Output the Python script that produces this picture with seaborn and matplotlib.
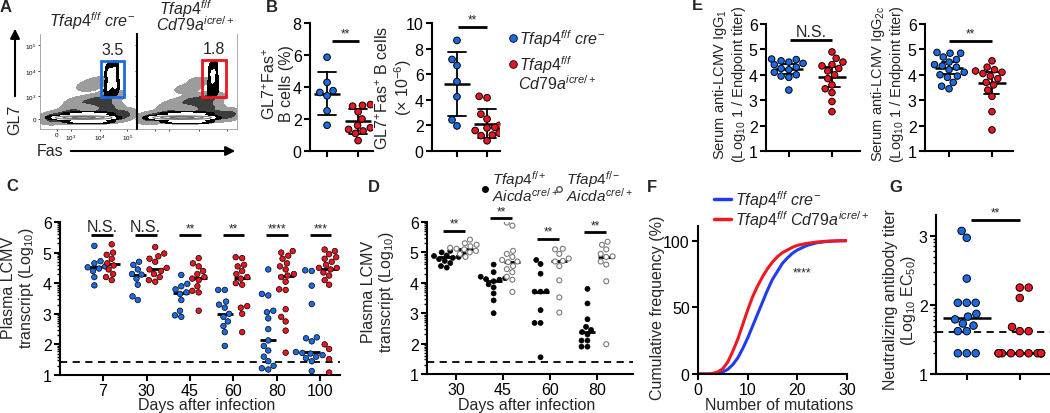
import numpy as np
import pandas as pd
import matplotlib
matplotlib.use("Agg")
import matplotlib.pyplot as plt
from matplotlib.lines import Line2D
from matplotlib.patches import Rectangle, FancyArrowPatch
from matplotlib.colors import ListedColormap
import seaborn as sns
import warnings

warnings.filterwarnings("ignore")

W, H = 1050, 414
BLUE = "#1a6be3"
RED = "#ea1520"
F_BLUE = "#1f3cf0"
F_RED = "#f01820"

# ---------------- data ----------------
# A: flow cytometry populations (Fas, GL7 in relative axis units, weights)
# diffuse background events
a_ctrl_bg_fas = [0.15, 0.30, 0.45, 0.60, 0.75, 0.85, 0.40, 0.55, 0.65, 0.72, 0.50, 0.60, 0.35, 0.70]
a_ctrl_bg_gl7 = [0.12, 0.14, 0.13, 0.13, 0.14, 0.15, 0.28, 0.30, 0.28, 0.35, 0.45, 0.50, 0.22, 0.22]
a_ctrl_bg_w = [3, 4, 5, 5, 4, 2, 1, 1.5, 2, 1.5, 0.6, 0.5, 1, 2]
a_ko_bg_fas = [0.15, 0.30, 0.45, 0.60, 0.75, 0.90, 0.40, 0.55, 0.65, 0.72, 0.50, 0.62, 0.35, 0.70]
a_ko_bg_gl7 = [0.12, 0.14, 0.13, 0.13, 0.14, 0.15, 0.26, 0.30, 0.28, 0.33, 0.42, 0.50, 0.22, 0.22]
a_ko_bg_w = [3, 4, 5, 5, 4, 3, 1, 1.8, 2.5, 1.8, 0.6, 0.5, 1, 2.5]
# non-GC B cells
a_ctrl_b_fas = [0.20, 0.30, 0.40, 0.50, 0.60, 0.70, 0.35, 0.50, 0.65, 0.35, 0.50, 0.65]
a_ctrl_b_gl7 = [0.12, 0.12, 0.12, 0.12, 0.12, 0.12, 0.08, 0.08, 0.08, 0.16, 0.16, 0.16]
a_ctrl_b_w = [3, 4, 5, 5, 4, 3, 2, 2, 2, 2, 2, 2]
a_ko_b_fas = [0.20, 0.30, 0.40, 0.50, 0.60, 0.70, 0.35, 0.50, 0.65, 0.35, 0.50, 0.65]
a_ko_b_gl7 = [0.12, 0.12, 0.12, 0.12, 0.12, 0.12, 0.08, 0.08, 0.08, 0.16, 0.16, 0.16]
a_ko_b_w = [3, 4, 5, 5, 4, 3, 2, 2, 2, 2, 2, 2]
# GC B cells
a_ctrl_gc_fas = [0.70, 0.78, 0.74, 0.71, 0.77]
a_ctrl_gc_gl7 = [0.42, 0.45, 0.52, 0.60, 0.62]
a_ko_gc_fas = [0.73, 0.79, 0.76, 0.74, 0.78]
a_ko_gc_gl7 = [0.42, 0.45, 0.52, 0.60, 0.62]
a_freq = ["3.5", "1.8"]
a_gates = [(0.63, 0.34, 0.24, 0.38), (0.65, 0.34, 0.24, 0.39)]
a_yticks = [0.105, 0.35, 0.61, 0.88]
a_ylabels = ["0", "10$^3$", "10$^4$", "10$^5$"]
a_xticks = [0.175, 0.32, 0.62, 0.90]
a_xlabels = ["0", "10$^3$", "10$^4$", "10$^5$"]

# B: GL7+Fas+ B cells
b_pct_ctrl = [5.86, 4.29, 3.77, 3.66, 3.45, 2.51, 1.61]
b_pct_ko = [2.9, 2.85, 2.8, 2.45, 2.0, 1.6, 1.45, 1.35, 1.25, 1.1, 0.65]
b_num_ctrl = [8.64, 7.15, 6.68, 5.42, 4.24, 2.43, 1.96]
b_num_ko = [4.27, 4.16, 2.88, 2.5, 2.0, 1.85, 1.8, 1.6, 1.4, 1.25, 1.2, 0.8]

# C: plasma LCMV, Tfap4 f/f cre- vs Cd79a icre/+
c_days = ["7", "30", "45", "60", "80", "100"]
c_ctrl = [
    [5.22, 4.72, 4.65, 4.55, 4.52, 4.48, 4.4, 4.2, 3.93],
    [4.7, 4.6, 4.45, 4.3, 4.28, 4.15, 3.95, 3.57, 3.45],
    [4.27, 3.98, 3.9, 3.8, 3.7, 3.65, 3.45, 3.1, 2.95, 2.9],
    [3.78, 3.78, 3.4, 3.3, 3.2, 3.0, 2.9, 2.75, 2.6, 2.4, 1.95],
    [4.45, 3.65, 3.6, 3.1, 3.05, 2.85, 2.5, 2.13, 1.95, 1.8, 1.6, 1.45, 1.3, 1.22, 1.18],
    [4.42, 4.4, 3.92, 3.32, 2.23, 2.2, 2.1, 1.75, 1.72, 1.7, 1.65, 1.6, 1.55, 1.45, 1.13],
]
c_ko = [
    [5.27, 5.0, 4.93, 4.8, 4.65, 4.58, 4.45, 4.3, 4.2, 4.1],
    [5.18, 4.97, 4.88, 4.8, 4.7, 4.5, 4.45, 4.4, 4.3, 4.2, 4.1, 4.05],
    [4.82, 4.65, 4.55, 4.4, 4.3, 4.2, 4.15, 4.1, 3.9, 3.75, 3.7, 3.1],
    [4.85, 4.82, 4.6, 4.55, 4.4, 4.3, 4.2, 4.15, 4.0, 3.95, 3.25, 3.2, 3.0, 2.4],
    [5.05, 5.0, 4.9, 4.8, 4.65, 4.55, 4.45, 4.3, 4.25, 4.2, 4.05, 3.8, 3.78, 3.15, 2.9, 2.75, 2.45, 1.73],
    [5.1, 5.05, 4.95, 4.85, 4.8, 4.7, 4.6, 4.5, 4.5, 4.45, 4.35, 4.25, 4.1, 3.95, 2.0, 1.85, 1.52, 1.08],
]
c_sig = ["N.S.", "N.S.", "**", "**", "****", "***"]
c_sig_y = 5.56
c_limit = 1.43

# D: plasma LCMV, Aicda cre/+ Tfap4 f/+ vs f/-
d_days = ["30", "45", "60", "80"]
d_het = [
    [5.05, 5.0, 4.95, 4.9, 4.88, 4.85, 4.82, 4.78, 4.72, 4.65, 4.55, 4.5],
    [4.6, 4.35, 4.2, 4.15, 4.12, 4.1, 4.05, 3.95, 3.85, 3.65, 3.42, 3.0],
    [4.75, 4.62, 4.3, 3.72, 3.71, 3.71, 3.1, 2.68, 2.68, 1.55],
    [3.8, 3.32, 2.8, 2.55, 2.45, 2.38, 2.3, 2.1, 2.1, 1.9, 1.9],
]
d_ko = [
    [5.42, 5.3, 5.25, 5.2, 5.15, 5.12, 5.1, 5.05, 5.0, 4.95, 4.85],
    [5.98, 5.88, 5.05, 4.95, 4.85, 4.75, 4.7, 4.68, 4.55, 4.45, 4.35, 4.2, 4.1, 3.7],
    [5.12, 5.1, 4.95, 4.8, 4.72, 4.7, 4.55, 4.08, 3.52, 3.02],
    [5.35, 5.25, 5.1, 4.95, 4.87, 4.85, 4.7, 4.6, 4.05, 1.98],
]
d_sig_y = [5.72, 6.12, 5.45, 5.67]
d_limit = 1.41

# E: serum anti-LCMV IgG titers
e_g1_ctrl = [4.62, 4.6, 4.55, 4.5, 4.45, 4.4, 4.3, 4.25, 4.2, 4.1, 4.0, 3.95, 3.9, 3.4]
e_g1_ko = [4.9, 4.65, 4.5, 4.4, 4.35, 4.25, 4.15, 4.0, 3.85, 3.6, 3.45, 3.3, 2.95, 2.55]
e_g2c_ctrl = [4.88, 4.85, 4.85, 4.7, 4.6, 4.5, 4.4, 4.35, 4.3, 4.2, 4.1, 4.0, 3.95, 3.9, 3.7, 3.55, 3.45]
e_g2c_ko = [4.55, 4.3, 4.2, 4.15, 4.1, 4.05, 3.95, 3.85, 3.7, 3.6, 3.4, 3.15, 2.55, 1.83]

# F: cumulative frequency of mutations
f_mut = [0, 2, 3, 4, 5, 6, 7, 8, 9, 10, 11, 12, 13, 14, 15, 16, 17, 18, 19, 20, 22, 24, 26, 28, 30]
f_ctrl = [0, 0.05, 0.2, 0.6, 1.5, 3.5, 7, 12, 19, 27, 36, 45, 54, 63, 71, 77, 83, 87, 90.5, 93, 96.5, 98.5, 99.4, 99.8, 100]
f_ko = [0, 0.1, 0.5, 1.5, 4, 9, 17, 26, 37, 48, 58, 66, 73, 79, 84, 88, 91, 93, 95, 96.5, 98, 99, 99.6, 99.9, 100]

# G: neutralizing antibody titer
g_ctrl = [3.07, 2.97, 2.38, 2.03, 2.03, 2.03, 1.87, 1.83, 1.79, 1.73, 1.70, 1.62, 1.62, 1.30, 1.30, 1.30]
g_ko = [2.25, 2.25, 2.10, 1.68, 1.62, 1.62, 1.30, 1.30, 1.30, 1.30, 1.30, 1.30, 1.30, 1.30, 1.30, 1.30]
g_limit = 1.61

CTRL_LABEL = r"$\mathit{Tfap4}^{\mathit{f/f}}\ \mathit{cre}^{-}$"
KO_LABEL = r"$\mathit{Tfap4}^{\mathit{f/f}}\ \mathit{Cd79a}^{\mathit{icre/+}}$"

# ---------------- style ----------------
sns.set_theme(style="ticks")
plt.rcParams["font.family"] = ["Liberation Sans", "DejaVu Sans"]
plt.rcParams["mathtext.fontset"] = "custom"
plt.rcParams["mathtext.rm"] = "Liberation Sans"
plt.rcParams["mathtext.it"] = "Liberation Sans:italic"
plt.rcParams["mathtext.bf"] = "Liberation Sans:bold"
plt.rcParams["axes.edgecolor"] = "black"
plt.rcParams["xtick.color"] = "black"
plt.rcParams["ytick.color"] = "black"

fig = plt.figure(figsize=(W / 100, H / 100), dpi=100)


def px_axes(box):
    x0, y0, x1, y1 = box
    return fig.add_axes([x0 / W, 1 - y1 / H, (x1 - x0) / W, (y1 - y0) / H])


def fx(x):
    return x / W


def fy(y):
    return 1 - y / H


def style(ax, xlim, ylim, yticks, fs=11.5):
    ax.set_xlim(*xlim)
    ax.set_ylim(*ylim)
    ax.set_yticks(yticks)
    for s in ["top", "right"]:
        ax.spines[s].set_visible(False)
    for s in ["left", "bottom"]:
        ax.spines[s].set_linewidth(1.5)
    ax.tick_params(direction="out", length=4, width=1.5, labelsize=fs, pad=2)
    ax.set_xlabel("")
    ax.set_ylabel("")


def ylab(ax, box, text, x_right, y_mid, fs=11.5):
    x0, y0, x1, y1 = box
    ax.set_ylabel(text, fontsize=fs, linespacing=1.05)
    ax.yaxis.set_label_coords((x_right - x0) / (x1 - x0), (y1 - y_mid) / (y1 - y0))


def xlab(ax, box, text, x_mid, y_top, fs=11.5):
    x0, y0, x1, y1 = box
    ax.set_xlabel(text, fontsize=fs)
    ax.xaxis.set_label_coords((x_mid - x0) / (x1 - x0), (y1 - y_top) / (y1 - y0))


def sig(ax, x0, x1, y, text, fs, dy):
    ax.plot([x0, x1], [y, y], color="black", lw=2, clip_on=False, solid_capstyle="butt")
    ax.text((x0 + x1) / 2, y + dy, text, ha="center", va="bottom", fontsize=fs, clip_on=False)


def two_groups(ax, ctrl, ko, size, errorbar, est, capsize, msize):
    df = pd.DataFrame({"g": ["ctrl"] * len(ctrl) + ["ko"] * len(ko), "v": list(ctrl) + list(ko)})
    sns.swarmplot(data=df, x="g", y="v", hue="g", palette={"ctrl": BLUE, "ko": RED},
                  size=size, edgecolor="black", linewidth=0.7, legend=False, ax=ax)
    sns.pointplot(data=df, x="g", y="v", estimator=est, errorbar=errorbar, color="black",
                  marker="_", markersize=msize, markeredgewidth=1.8, linestyle="none",
                  capsize=capsize, err_kws={"linewidth": 1.3}, ax=ax)
    ax.set_xticks([0, 1])
    ax.set_xticklabels([])


def log_minor(ax, lo, hi):
    minor = [np.log10(k * 10.0 ** d) for d in range(int(lo), int(hi) + 1) for k in range(2, 10)]
    ax.set_yticks([m for m in minor if lo < m < hi], minor=True)
    ax.tick_params(axis="y", which="minor", length=2, width=1.0, direction="out")


def density(ax, fas, gl7, w, bw, fills, lines=None):
    df = pd.DataFrame({"fas": fas, "gl7": gl7, "w": w})
    for lev, shade in fills:
        sns.kdeplot(data=df, x="fas", y="gl7", weights="w", fill=True, bw_method=bw,
                    levels=[lev, 1.0], cmap=ListedColormap([shade]),
                    clip=((0, 1), (0, 1)), ax=ax)
    if lines:
        n_before = len(ax.collections)
        sns.kdeplot(data=df, x="fas", y="gl7", weights="w", fill=False, bw_method=bw,
                    levels=lines, color="#666666", clip=((0, 1), (0, 1)), ax=ax)
        for coll in ax.collections[n_before:]:
            coll.set_linewidth(0.6)


# ---------------- A ----------------
box_a1 = (40, 35, 137, 130)
box_a2 = (137, 35, 237, 130)
a_sets = [
    (box_a1, (a_ctrl_bg_fas, a_ctrl_bg_gl7, a_ctrl_bg_w), (a_ctrl_b_fas, a_ctrl_b_gl7, a_ctrl_b_w),
     (a_ctrl_gc_fas, a_ctrl_gc_gl7), BLUE, 0.55),
    (box_a2, (a_ko_bg_fas, a_ko_bg_gl7, a_ko_bg_w), (a_ko_b_fas, a_ko_b_gl7, a_ko_b_w),
     (a_ko_gc_fas, a_ko_gc_gl7), RED, 0.8),
]
for i, (box, bg, bcell, gc, col, gc_core) in enumerate(a_sets):
    ax = px_axes(box)
    density(ax, *bg, 0.35, [(0.015, "#9c9c9c"), (0.25, "#3c3c3c")])
    density(ax, *bcell, 0.5, [(0.04, "black"), (0.22, "white")], lines=[0.5, 0.72, 0.9])
    density(ax, gc[0], gc[1], [1] * len(gc[0]), 0.7, [(0.1, "black"), (gc_core, "white")])
    gx, gy, gw, gh = a_gates[i]
    ax.add_patch(Rectangle((gx, gy), gw, gh, fill=False, edgecolor=col, lw=2))
    ax.text(gx + gw / 2, gy + gh + 0.04, a_freq[i], ha="center", va="bottom", fontsize=11.5)
    ax.set_xlim(0, 1)
    ax.set_ylim(0, 1)
    ax.set_xlabel("")
    ax.set_ylabel("")
    ax.set_xticks(a_xticks)
    ax.set_yticks(a_yticks)
    if i == 0:
        ax.set_xticklabels(a_xlabels, fontsize=4.5)
        ax.set_yticklabels(a_ylabels, fontsize=4.5)
    else:
        ax.set_xticklabels([])
        ax.set_yticklabels([])
        ax.tick_params(axis="y", length=0)
    ax.tick_params(length=1.5, width=0.5, pad=1)
    for s in ax.spines.values():
        s.set_linewidth(0.5)
        s.set_color("#888888")
    if i == 1:
        ax.spines["left"].set_color("black")
        ax.spines["left"].set_linewidth(1.5)
    ax.spines["top"].set_visible(False)

fig.text(fx(92), fy(21), CTRL_LABEL, ha="center", va="center", fontsize=11.5)
fig.text(fx(186), fy(9), r"$\mathit{Tfap4}^{\mathit{f/f}}$", ha="center", va="center", fontsize=11.5)
fig.text(fx(195), fy(25), r"$\mathit{Cd79a}^{\mathit{icre/+}}$", ha="center", va="center", fontsize=11.5)
fig.text(fx(15), fy(120), "GL7", rotation=90, ha="center", va="center", fontsize=11.5)
fig.add_artist(FancyArrowPatch((fx(15), fy(100)), (fx(15), fy(27)), transform=fig.transFigure,
                               arrowstyle="-|>", mutation_scale=14, lw=1.5, color="black"))
fig.text(fx(50), fy(152), "Fas", ha="center", va="center", fontsize=11.5)
fig.add_artist(FancyArrowPatch((fx(68), fy(152)), (fx(238), fy(152)), transform=fig.transFigure,
                               arrowstyle="-|>", mutation_scale=14, lw=1.5, color="black"))

# ---------------- B ----------------
box_b1 = (310, 24, 373, 152)
ax = px_axes(box_b1)
two_groups(ax, b_pct_ctrl, b_pct_ko, 4.8, "sd", "mean", 0.6, 19)
style(ax, (-0.55, 1.48), (0, 8), [0, 2, 4, 6, 8])
ylab(ax, box_b1, "GL7$^{+}$Fas$^{+}$\nB cells (%)", 294, 84)
sig(ax, 0.16, 1.03, 6.85, "**", 8.5, 0.1)

box_b2 = (432, 24, 500, 152)
ax = px_axes(box_b2)
two_groups(ax, b_num_ctrl, b_num_ko, 4.8, "sd", "mean", 0.6, 19)
style(ax, (-0.83, 1.43), (0, 10), [0, 2, 4, 6, 8, 10])
ylab(ax, box_b2, "GL7$^{+}$Fas$^{+}$ B cells\n(× 10$^{-6}$)", 414, 88)
sig(ax, 0.03, 1.0, 9.66, "**", 8.5, 0.12)

fig.add_artist(Line2D([fx(513)], [fy(39)], marker="o", color=BLUE, markeredgecolor="black",
                      markeredgewidth=0.6, markersize=5.5, transform=fig.transFigure))
fig.add_artist(Line2D([fx(513)], [fy(65)], marker="o", color=RED, markeredgecolor="black",
                      markeredgewidth=0.6, markersize=5.5, transform=fig.transFigure))
fig.text(fx(519), fy(39), CTRL_LABEL, ha="left", va="center", fontsize=11.5)
fig.text(fx(519), fy(65), r"$\mathit{Tfap4}^{\mathit{f/f}}$", ha="left", va="center", fontsize=11.5)
fig.text(fx(518), fy(84), r"$\mathit{Cd79a}^{\mathit{icre/+}}$", ha="left", va="center", fontsize=11.5)

# ---------------- C ----------------
box_c = (60, 223, 340, 376)
ax = px_axes(box_c)
rows = []
for day, cv, kv in zip(c_days, c_ctrl, c_ko):
    rows += [(day, "ctrl", v) for v in cv] + [(day, "ko", v) for v in kv]
c_df = pd.DataFrame(rows, columns=["day", "geno", "val"])
sns.swarmplot(data=c_df, x="day", y="val", hue="geno", order=c_days, hue_order=["ctrl", "ko"],
              dodge=True, palette={"ctrl": BLUE, "ko": RED}, size=4.0, edgecolor="black",
              linewidth=0.5, legend=False, ax=ax)
sns.pointplot(data=c_df, x="day", y="val", hue="geno", order=c_days, hue_order=["ctrl", "ko"],
              estimator="median", errorbar=None, dodge=0.4, palette={"ctrl": "black", "ko": "black"},
              marker="_", markersize=12, markeredgewidth=2, linestyle="none", legend=False, ax=ax)
ax.axhline(c_limit, color="black", lw=1.3, ls=(0, (4, 3)))
style(ax, (-0.99, 5.45), (1, 6), [1, 2, 3, 4, 5, 6])
log_minor(ax, 1, 6)
ylab(ax, box_c, "Plasma LCMV\ntranscript (Log$_{10}$)", 36, 288)
xlab(ax, box_c, "Days after infection", 207, 398)
for i, t in enumerate(c_sig):
    if t == "N.S.":
        sig(ax, i - 0.27, i + 0.23, c_sig_y, t, 11.5, 0.04)
    else:
        sig(ax, i - 0.25, i + 0.25, c_sig_y, t, 8.5, 0.03)

# ---------------- D ----------------
box_d = (427, 223, 633, 375)
ax = px_axes(box_d)
rows = []
for day, hv, kv in zip(d_days, d_het, d_ko):
    rows += [(day, "het", v) for v in hv] + [(day, "ko", v) for v in kv]
d_df = pd.DataFrame(rows, columns=["day", "geno", "val"])
sns.swarmplot(data=d_df[d_df.geno == "het"], x="day", y="val", hue="geno", order=d_days,
              hue_order=["het", "ko"], dodge=True, palette={"het": "black", "ko": "white"},
              size=3.6, edgecolor="black", linewidth=0.5, legend=False, ax=ax)
sns.swarmplot(data=d_df[d_df.geno == "ko"], x="day", y="val", hue="geno", order=d_days,
              hue_order=["het", "ko"], dodge=True, palette={"het": "black", "ko": "white"},
              size=3.6, edgecolor="#7a7a7a", linewidth=0.8, legend=False, ax=ax)
sns.pointplot(data=d_df, x="day", y="val", hue="geno", order=d_days, hue_order=["het", "ko"],
              estimator="median", errorbar=None, dodge=0.4, palette={"het": "black", "ko": "black"},
              marker="_", markersize=11, markeredgewidth=2, linestyle="none", legend=False, ax=ax)
ax.axhline(d_limit, color="black", lw=1.3, ls=(0, (4, 3)))
style(ax, (-0.62, 3.77), (1, 6), [1, 2, 3, 4, 5, 6])
log_minor(ax, 1, 6)
ylab(ax, box_d, "Plasma LCMV\ntranscript (Log$_{10}$)", 396, 292)
xlab(ax, box_d, "Days after infection", 527, 398)
for i, y in enumerate(d_sig_y):
    sig(ax, i - 0.27, i + 0.2, y, "**", 8.5, 0.03)

fig.add_artist(Line2D([fx(485)], [fy(190)], marker="o", color="black", markersize=4,
                      transform=fig.transFigure))
fig.add_artist(Line2D([fx(559)], [fy(190)], marker="o", markerfacecolor="white",
                      markeredgecolor="#555555", markersize=4, transform=fig.transFigure))
fig.text(fx(492), fy(180), r"$\mathit{Tfap4}^{\mathit{f/+}}$", ha="left", va="center", fontsize=11)
fig.text(fx(492), fy(196), r"$\mathit{Aicda}^{\mathit{cre/+}}$", ha="left", va="center", fontsize=11)
fig.text(fx(566), fy(180), r"$\mathit{Tfap4}^{\mathit{f/-}}$", ha="left", va="center", fontsize=11)
fig.text(fx(566), fy(196), r"$\mathit{Aicda}^{\mathit{cre/+}}$", ha="left", va="center", fontsize=11)

# ---------------- E ----------------
box_e1 = (766, 25, 860, 152)
ax = px_axes(box_e1)
two_groups(ax, e_g1_ctrl, e_g1_ko, 4.7, ("se", 2.16), "mean", 0.35, 20)
style(ax, (-0.53, 1.65), (1, 6), [1, 2, 3, 4, 5, 6])
ylab(ax, box_e1, "Serum anti-LCMV IgG$_{1}$\n(Log$_{10}$ 1 / Endpoint titer)", 748, 84, fs=10.5)
sig(ax, 0.02, 1.0, 5.37, "N.S.", 11.5, 0.04)

box_e2 = (925, 25, 1013, 152)
ax = px_axes(box_e2)
two_groups(ax, e_g2c_ctrl, e_g2c_ko, 4.7, ("se", 2.16), "mean", 0.35, 20)
style(ax, (-0.56, 1.49), (1, 6), [1, 2, 3, 4, 5, 6])
ylab(ax, box_e2, "Serum anti-LCMV IgG$_{\\mathrm{2c}}$\n(Log$_{10}$ 1 / Endpoint titer)", 906, 84, fs=10.5)
sig(ax, 0.0, 1.0, 5.35, "**", 8.5, 0.05)

# ---------------- F ----------------
box_f = (698, 227, 847, 375)
ax = px_axes(box_f)
f_df = pd.DataFrame({"mut": f_mut + f_mut, "freq": f_ctrl + f_ko,
                     "geno": ["ctrl"] * len(f_mut) + ["ko"] * len(f_mut)})
sns.lineplot(data=f_df, x="mut", y="freq", hue="geno", palette={"ctrl": F_BLUE, "ko": F_RED},
             lw=2.2, legend=False, ax=ax)
style(ax, (0, 30), (0, 111), [0, 50, 100])
ax.set_xticks([0, 10, 20, 30])
ylab(ax, box_f, "Cumulative frequency (%)", 665, 308)
xlab(ax, box_f, "Number of mutations", 779, 398)
ax.text(20.9, 76, "****", ha="center", va="center", fontsize=8.5)
fig.add_artist(Line2D([fx(714), fx(731)], [fy(200), fy(200)], color=F_BLUE, lw=2.5,
                      transform=fig.transFigure))
fig.add_artist(Line2D([fx(714), fx(731)], [fy(220), fy(220)], color=F_RED, lw=2.5,
                      transform=fig.transFigure))
fig.text(fx(735), fy(200), CTRL_LABEL, ha="left", va="center", fontsize=11.5)
fig.text(fx(735), fy(220), KO_LABEL, ha="left", va="center", fontsize=11.5)

# ---------------- G ----------------
box_g = (936, 216, 1050, 375)
ax = px_axes(box_g)
two_groups(ax, g_ctrl, g_ko, 5.4, None, "median", 0, 34)
ax.axhline(g_limit, color="black", lw=1.3, ls=(0, (4, 3)))
style(ax, (-0.58, 1.57), (1, 3.3), [1, 2, 3])
log_minor(ax, 1, 3.3)
ylab(ax, box_g, "Neutralizing antibody titer\n(Log$_{10}$ EC$_{50}$)", 918, 300)
sig(ax, 0.08, 1.0, 3.23, "**", 8.5, 0.02)

# ---------------- panel letters ----------------
for letter, x, y in [("A", 6, 7), ("B", 272, 7), ("E", 697, 6), ("C", 12, 187),
                     ("D", 374, 188), ("F", 652, 188), ("G", 896, 188)]:
    fig.text(fx(x), fy(y), letter, ha="center", va="center", fontsize=12, fontweight="bold")

fig.savefig("out.png", dpi=100)
